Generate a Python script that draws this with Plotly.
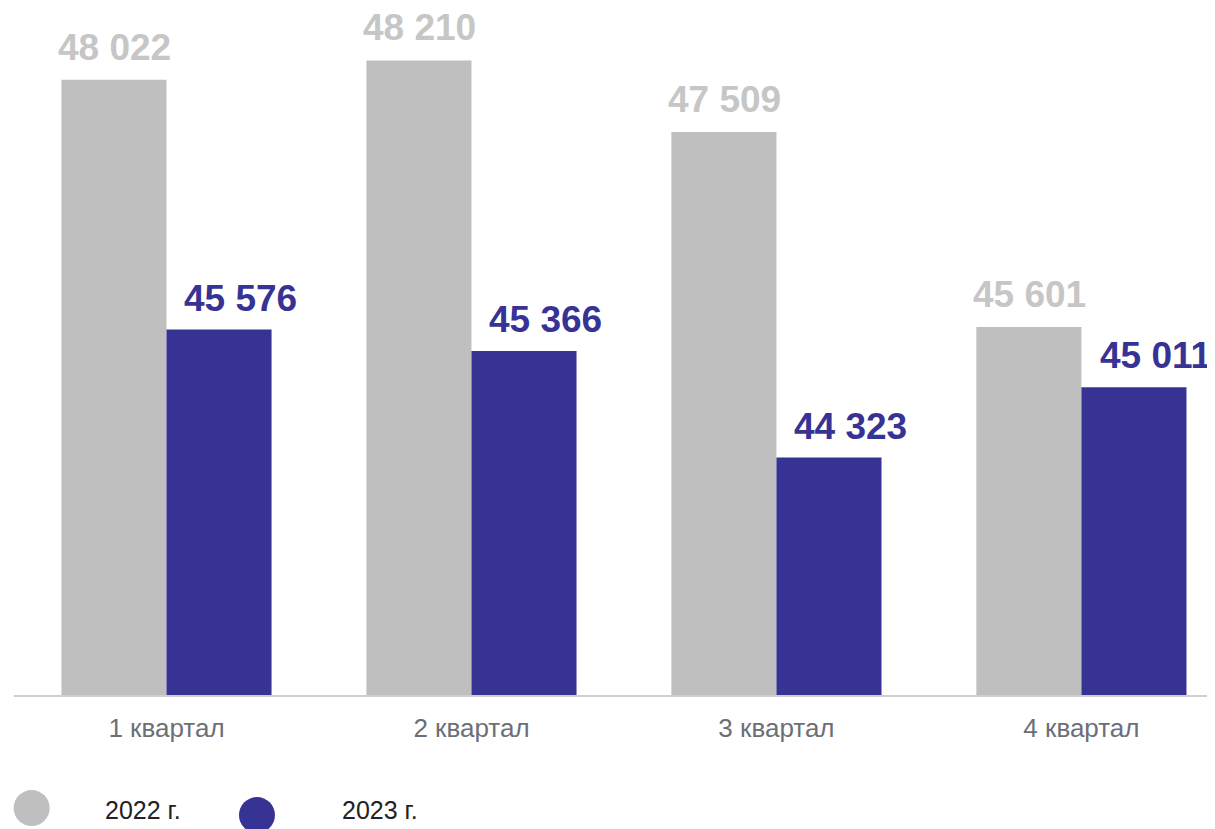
import plotly.graph_objects as go

categories = ["1 квартал", "2 квартал", "3 квартал", "4 квартал"]
values_2022 = [48022, 48210, 47509, 45601]
values_2023 = [45576, 45366, 44323, 45011]
series_names = ["2022 г.", "2023 г."]

GRAY = "#BFBFBF"
GRAY_LABEL = "#C6C6C6"
BLUE = "#373395"
FONT = "Arial, Liberation Sans, sans-serif"


def fmt(v):
    return f"{v:,}".replace(",", " ")


fig = go.Figure()
fig.add_trace(go.Bar(x=categories, y=values_2022, name=series_names[0],
                     marker=dict(color=GRAY, line=dict(width=0))))
fig.add_trace(go.Bar(x=categories, y=values_2023, name=series_names[1],
                     marker=dict(color=BLUE, line=dict(width=0))))

annotations = []
for c, v in zip(categories, values_2022):
    annotations.append(dict(x=c, y=v, xref="x", yref="y", text=fmt(v), showarrow=False,
                            xanchor="center", yanchor="bottom", xshift=-52, yshift=10,
                            font=dict(family=FONT, size=37, color=GRAY_LABEL, weight="bold")))
for c, v in zip(categories, values_2023):
    annotations.append(dict(x=c, y=v, xref="x", yref="y", text=fmt(v), showarrow=False,
                            xanchor="center", yanchor="bottom", xshift=74, yshift=9,
                            font=dict(family=FONT, size=37, color=BLUE, weight="bold")))

# custom legend
legend_items = [(series_names[0], GRAY, 0.0147, -0.1645, 0.0741),
                (series_names[1], BLUE, 0.2023, -0.1747, 0.2714)]
shapes = []
for name, col, cx, cy, tx in legend_items:
    shapes.append(dict(type="circle", xref="paper", yref="paper", xsizemode="pixel",
                       ysizemode="pixel", xanchor=cx, yanchor=cy, x0=-18, x1=18, y0=-18, y1=18,
                       fillcolor=col, line=dict(width=0), layer="above"))
    annotations.append(dict(x=tx, y=-0.1674, xref="paper", yref="paper", text=name,
                            showarrow=False, xanchor="left", yanchor="middle",
                            font=dict(family=FONT, size=25, color="#222222")))

fig.update_layout(
    width=1207, height=821,
    margin=dict(l=6, r=0, t=0, b=134),
    paper_bgcolor="white", plot_bgcolor="white",
    barmode="group", bargap=0.311, bargroupgap=0,
    showlegend=False,
    annotations=annotations, shapes=shapes,
    font=dict(family=FONT),
)
fig.update_xaxes(range=[-0.5, 3.438], showline=True, linecolor="#CFCFCF", linewidth=2,
                 showgrid=False, ticks="", ticklabelstandoff=9,
                 tickfont=dict(family=FONT, size=26, color="#6B6F78"))
fig.update_yaxes(range=[42000, 48723], visible=False, showgrid=False, zeroline=False)

fig.write_html("out.html")
